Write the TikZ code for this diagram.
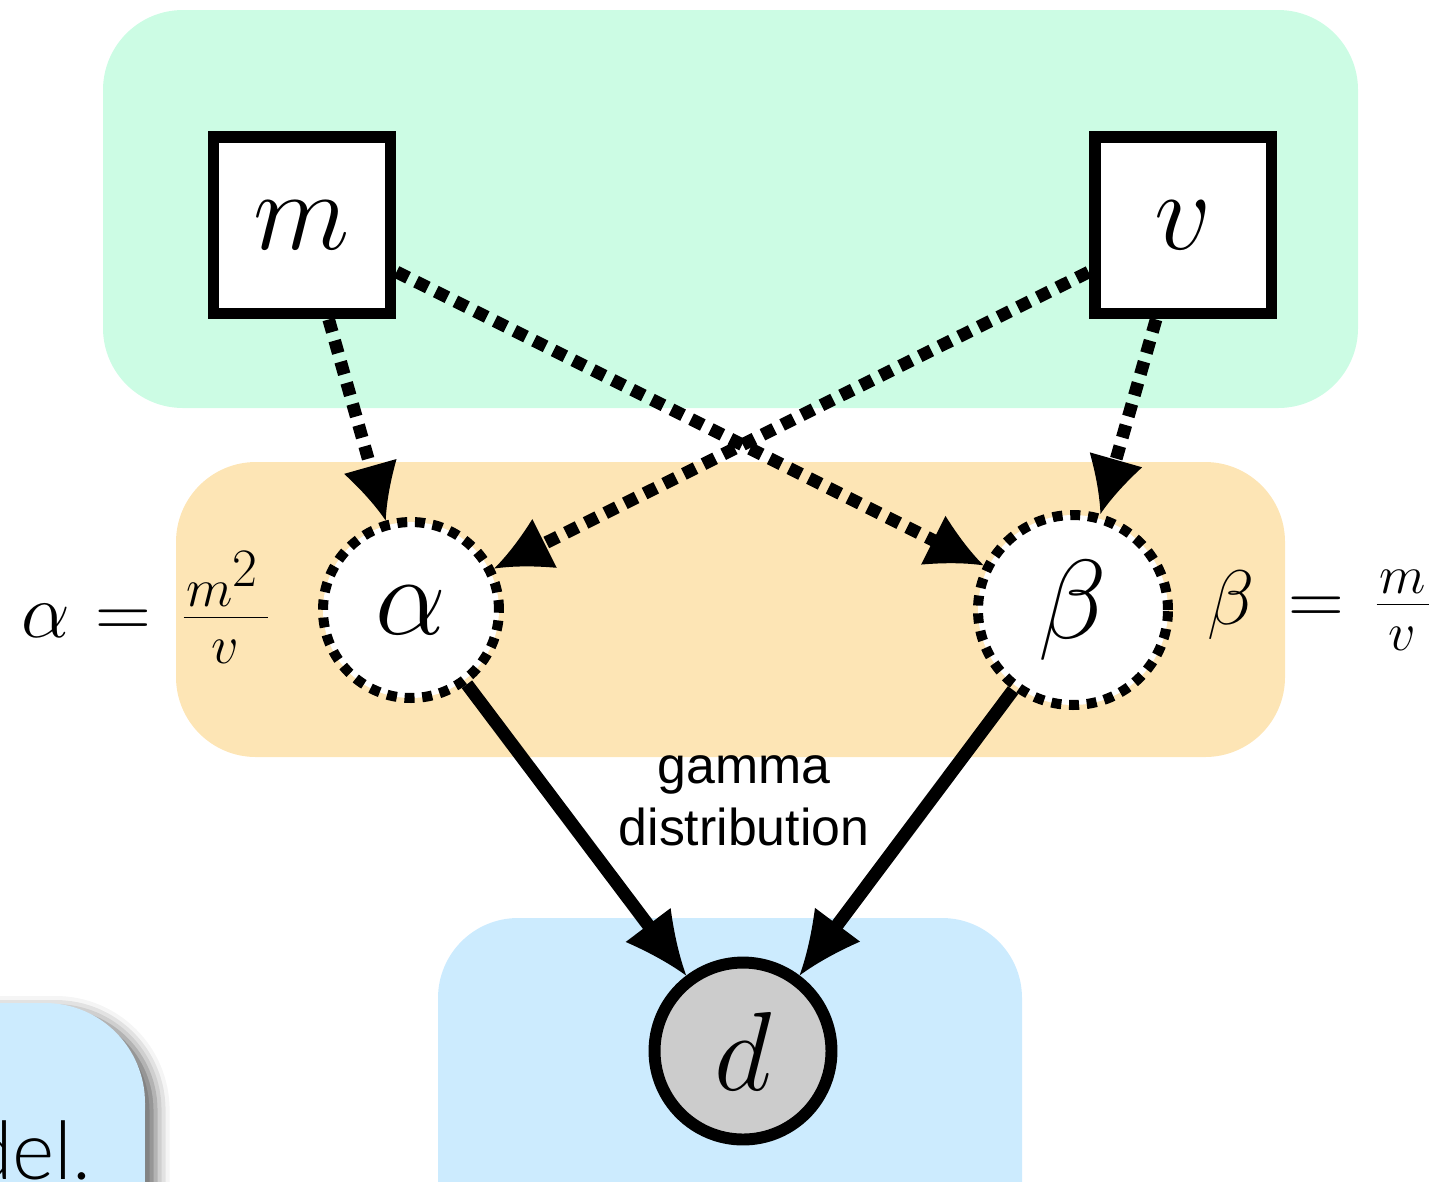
\documentclass[tikz,border=0pt]{standalone}
\usepackage{fix-cm}
\usepackage{fontspec}
\usetikzlibrary{arrows.meta,shadows.blur}
\newfontfamily\labelsans{Liberation Sans}
\newfontfamily\lightsans{Lato Light}

% filled arrow tip with slightly concave flanks
\pgfdeclarearrow{
  name = Thorn,
  parameters = {\the\pgfarrowlength,\the\pgfarrowwidth},
  setup code = {
    \pgfarrowssettipend{\pgfarrowlength}
    \pgfarrowssetbackend{0pt}
    \pgfarrowssetvisualbackend{0pt}
    \pgfarrowssetlineend{.35\pgfarrowlength}
    \pgfarrowssavethe\pgfarrowlength
    \pgfarrowssavethe\pgfarrowwidth
  },
  drawing code = {
    \pgfpathmoveto{\pgfqpoint{\pgfarrowlength}{0pt}}
    \pgfpathcurveto{\pgfqpoint{.65\pgfarrowlength}{.12\pgfarrowwidth}}{\pgfqpoint{.3\pgfarrowlength}{.31\pgfarrowwidth}}{\pgfqpoint{0pt}{.5\pgfarrowwidth}}
    \pgfpathlineto{\pgfqpoint{0pt}{-.5\pgfarrowwidth}}
    \pgfpathcurveto{\pgfqpoint{.3\pgfarrowlength}{-.31\pgfarrowwidth}}{\pgfqpoint{.65\pgfarrowlength}{-.12\pgfarrowwidth}}{\pgfqpoint{\pgfarrowlength}{0pt}}
    \pgfpathclose
    \pgfsetfillcolor{black}
    \pgfusepathqfill
  },
  defaults = {length = 10pt, width = 8pt}
}

\definecolor{paramgreen}{HTML}{CCFCE4}
\definecolor{derivorange}{HTML}{FDE5B5}
\definecolor{datablue}{HTML}{CCEBFE}
\definecolor{obsgray}{HTML}{CCCCCC}

\tikzset{
  panel/.style={rounded corners=1.6cm},
  param/.style={rectangle, draw, fill=white, line width=6.8pt,
    minimum size=3.54cm, inner sep=0pt, font=\fontsize{64}{70}\selectfont},
  derived/.style={circle, draw, fill=white, line width=5.7pt,
    dash pattern=on 5.7pt off 4.4pt, inner sep=0pt, font=\fontsize{64}{70}\selectfont},
  observed/.style={circle, draw, fill=obsgray, line width=6.8pt,
    minimum size=3.54cm, inner sep=0pt, font=\fontsize{64}{70}\selectfont},
  detedge/.style={line width=7.2pt, dash pattern=on 7.4pt off 5.1pt,
    -{Thorn[length=32pt,width=31pt,color=black,fill=black]}},
  stochedge/.style={line width=7.4pt, -{Thorn[length=36pt,width=32pt,color=black,fill=black]}},
  eqlabel/.style={inner sep=0pt, anchor=base west, font=\fontsize{44}{50}\selectfont},
}

\begin{document}
\begin{tikzpicture}[x=0.02cm, y=-0.02cm]
  \useasboundingbox (0,0) rectangle (1439,1181);
  \clip (0,0) rectangle (1439,1181);

  % background panels
  \fill[panel, paramgreen] (103,10) rectangle (1358,408);
  \fill[panel, derivorange] (176,462) rectangle (1285,757);
  \fill[panel, datablue] (438,918) rectangle (1022,1300);

  % nodes
  \node[param] (m) at (302,225) {$m$};
  \node[param] (v) at (1183,225) {$v$};
  \node[derived, minimum size=3.52cm] (alpha) at (411,610) {$\alpha$};
  \node[derived, minimum size=3.8cm] (beta) at (1073,610) {$\beta$};
  \node[observed] (d) at (743,1051) {$d$};

  % deterministic dependencies
  \draw[detedge] (m) -- (alpha);
  \draw[detedge] (m) -- (beta);
  \draw[detedge] (v) -- (alpha);
  \draw[detedge] (v) -- (beta);

  % stochastic dependencies
  \draw[stochedge] (alpha) -- (d);
  \draw[stochedge] (beta) -- (d);

  % labels
  \node[inner sep=0pt, align=center, font=\labelsans\fontsize{29.5}{35.3}\selectfont]
    (gammalabel) at (744,801) {gamma\\distribution};
  \node[eqlabel] (alphaeq) at (21,637)
    {$\alpha\mkern6mu{=}\mkern7mu\frac{\mkern1mu m^{\scriptstyle 2}\mkern3mu}{v}$};
  \node[eqlabel] (betaeq) at (1207,624)
    {$\beta\mkern8mu{=}\mkern7mu\frac{\mkern1mu m\mkern1mu}{v}$};

  % neighbouring slide box
  \fill[rounded corners=2cm, datablue,
    blur shadow={shadow xshift=6pt, shadow yshift=-4pt, shadow blur radius=8pt, shadow opacity=60}]
    (-300,1003) rectangle (145,1400);
  \node[inner sep=0pt, anchor=base east, font=\lightsans\fontsize{46}{52}\selectfont]
    (slidetext) at (92,1179) {del.};
\end{tikzpicture}
\end{document}
